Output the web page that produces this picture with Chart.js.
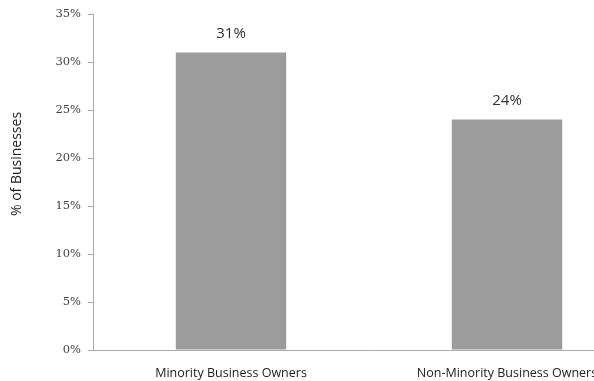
<!DOCTYPE html>
<html><head><meta charset="utf-8">
<script src="https://cdn.jsdelivr.net/npm/chart.js@4/dist/chart.umd.min.js"></script>
<style>
html,body{margin:0;padding:0;background:#fff;overflow:hidden;}
#wrap{width:650px;height:381px;position:relative;}
</style></head>
<body><div id="wrap"><canvas id="c" width="650" height="381"></canvas></div>
<script>
const categories = ["Minority Business Owners", "Non-Minority Business Owners"];
const values = [31, 24];
const yTicks = [0, 5, 10, 15, 20, 25, 30, 35];
const yTitle = "% of Businesses";

const labelPlugin = {
  id: 'barLabels',
  afterDatasetsDraw(chart) {
    const ctx = chart.ctx;
    const meta = chart.getDatasetMeta(0);
    ctx.save();
    ctx.font = '15px "Open Sans", sans-serif';
    ctx.fillStyle = '#333';
    ctx.textAlign = 'center';
    ctx.textBaseline = 'middle';
    meta.data.forEach((bar, i) => {
      ctx.fillText(values[i] + '%', bar.x, bar.y - 19);
    });
    // y axis title
    ctx.translate(17, 164);
    ctx.rotate(-Math.PI / 2);
    ctx.font = '14px "Open Sans", sans-serif';
    ctx.fillStyle = '#222';
    ctx.fillText(yTitle, 0, 0);
    ctx.restore();
  }
};

new Chart(document.getElementById('c'), {
  type: 'bar',
  data: {
    labels: categories,
    datasets: [{
      data: values,
      backgroundColor: '#9c9c9c',
      borderWidth: 0,
      barPercentage: 0.8,
      categoryPercentage: 0.5
    }]
  },
  options: {
    responsive: false,
    animation: false,
    events: [],
    layout: { padding: { top: 14, right: 5, left: 0, bottom: 0 } },
    plugins: { legend: { display: false }, tooltip: { enabled: false } },
    scales: {
      y: {
        min: 0, max: 35,
        afterBuildTicks(scale) { scale.ticks = yTicks.map(v => ({ value: v })); },
        afterFit(scale) { scale.width = 93; },
        ticks: {
          callback: v => v + '%',
          font: { family: 'DejaVu Serif', size: 11.5 },
          color: '#444',
          padding: 7
        },
        grid: { drawOnChartArea: false, drawTicks: true, tickLength: 5, color: '#aaa' },
        border: { display: true, color: '#aaa' }
      },
      x: {
        afterFit(scale) { scale.height = 31; },
        ticks: {
          font: { family: '"Open Sans", sans-serif', size: 12.5 },
          color: '#222',
          padding: 8
        },
        grid: { display: false },
        border: { display: true, color: '#aaa' }
      }
    }
  },
  plugins: [labelPlugin]
});
</script></body></html>
